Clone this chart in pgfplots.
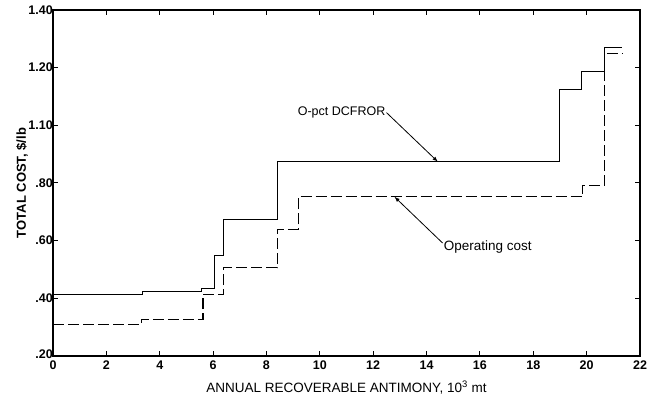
\documentclass[border=0pt]{standalone}
\usepackage{fontspec}
\setmainfont{Liberation Sans}
\usepackage{pgfplots}
\pgfplotsset{compat=1.18}
\usetikzlibrary{calc}

\begin{document}
\begin{tikzpicture}
\begin{axis}[
  scale only axis,
  width=587pt, height=346pt,
  xmin=0, xmax=22, ymin=0.2, ymax=1.4,
  xtick={0,2,...,22},
  ytick={0.2,0.4,0.6,0.8,1.0,1.2,1.4},
  yticklabels={\raisebox{3pt}{.20},.40,.60,.80,1.10,1.20,1.40},
  tick align=inside,
  major tick length=5pt,
  axis line style={line width=1.3pt},
  every tick/.style={line width=1pt, black},
  tick label style={font=\fontsize{12.5}{14}\selectfont\bfseries, inner sep=1pt},
  /pgf/number format/assume math mode=true,
  xticklabel style={yshift=-4pt},
  yticklabel style={xshift=1pt},
  xlabel={ANNUAL RECOVERABLE ANTIMONY, 10\textsuperscript{3} mt},
  ylabel={\bfseries TOTAL COST, \$/lb},
  xlabel style={font=\fontsize{13.5}{15}\selectfont, yshift=-6pt},
  ylabel style={font=\fontsize{13}{15}\selectfont, yshift=-4pt},
  clip=false,
]
\coordinate (SW) at (rel axis cs:0,0);
\coordinate (NE) at (rel axis cs:1,1);

% 0-pct DCFROR total cost
\addplot[const plot mark left, black, line width=1.1pt] coordinates {
  (0,0.414) (3.35,0.425) (5.56,0.435) (6.06,0.55) (6.40,0.672)
  (8.41,0.874) (18.97,1.125) (19.81,1.186) (20.66,1.269) (21.31,1.269)
};

% operating cost
\addplot[const plot mark left, black, line width=1.1pt,
  dash pattern=on 11pt off 4pt] coordinates {
  (0,0.31) (3.31,0.328) (5.62,0.414) (6.40,0.506) (8.41,0.64)
  (9.19,0.752) (19.84,0.791) (20.66,1.25) (21.35,1.25)
};

\node[anchor=east, font=\fontsize{12.5}{15}\selectfont, inner sep=1pt]
  at (axis cs:12.5,1.044) {O-pct DCFROR};
\draw[-latex, line width=0.8pt] (axis cs:12.5,1.044) -- (axis cs:14.42,0.874);

\node[anchor=west, font=\fontsize{13.5}{15}\selectfont, inner sep=1pt]
  at (axis cs:14.6,0.578) {Operating cost};
\draw[-latex, line width=0.8pt] (axis cs:14.6,0.592) -- (axis cs:12.8,0.752);
\end{axis}
\pgfresetboundingbox
\path ($(SW)+(-53pt,-42pt)$) rectangle ($(NE)+(18pt,10pt)$);
\end{tikzpicture}
\end{document}
